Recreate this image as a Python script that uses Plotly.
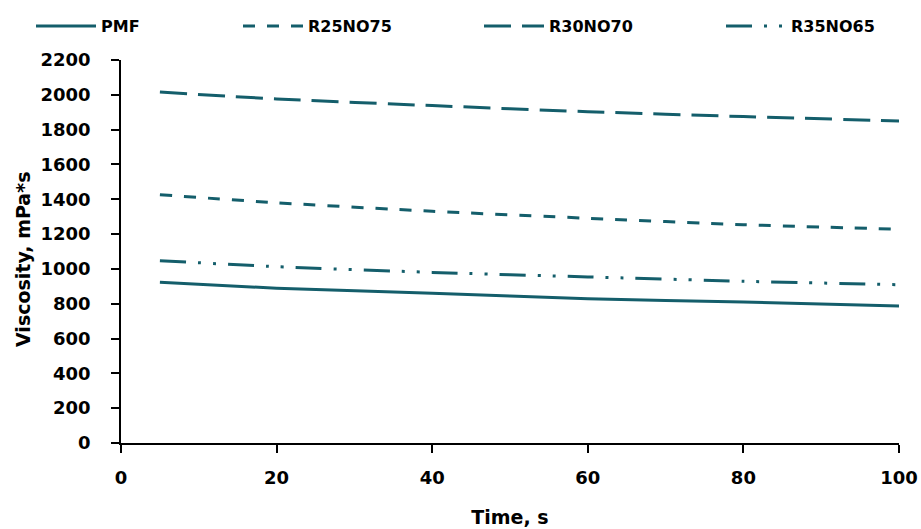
import plotly.graph_objects as go

time_s = [5, 20, 40, 60, 80, 100]
pmf = [923, 889, 860, 829, 810, 787]
r25no75 = [1426, 1380, 1331, 1291, 1254, 1228]
r30no70 = [2016, 1976, 1938, 1903, 1875, 1850]
r35no65 = [1047, 1013, 980, 954, 929, 909]

series_names = ["PMF", "R25NO75", "R30NO70", "R35NO65"]
series_vals = [pmf, r25no75, r30no70, r35no65]
dashes = ["solid", "12px,12px", "27px,11px", "26px,12px,3px,12px,3px,12px"]
legend_ids = ["legend", "legend2", "legend3", "legend4"]
legend_left_px = [31, 238, 479, 721]

color = "#145E6B"
FONT = "DejaVu Sans"
W, H = 921, 529
L, R, T, B = 121, 22, 60, 86

fig = go.Figure()
for name, vals, d, lg in zip(series_names, series_vals, dashes, legend_ids):
    fig.add_trace(go.Scatter(
        x=time_s, y=vals, name=name, mode="lines", legend=lg,
        line=dict(color=color, width=3, dash=d, shape="spline", smoothing=0.6),
    ))

legend_common = dict(
    orientation="h", xref="container", yref="container",
    xanchor="left", y=1 - 26 / H, yanchor="middle",
    itemwidth=60, bgcolor="rgba(0,0,0,0)",
    font=dict(family=FONT, size=16, color="black", weight="bold"),
)
layout_legends = {}
for lg, px in zip(legend_ids, legend_left_px):
    layout_legends[lg] = dict(legend_common, x=px / W)

pw, ph = W - L - R, H - T - B

fig.update_layout(
    width=W, height=H,
    margin=dict(l=L, r=R, t=T, b=B, autoexpand=False),
    plot_bgcolor="white", paper_bgcolor="white",
    font=dict(family=FONT, size=18, color="black", weight="bold"),
    showlegend=True,
    **layout_legends,
    xaxis=dict(
        range=[0, 100], tick0=0, dtick=20, automargin=False,
        showline=True, linecolor="black", linewidth=1.5,
        ticks="outside", ticklen=8, tickcolor="black", tickwidth=1.5,
        ticklabelstandoff=10,
        showgrid=False, zeroline=False,
        title=dict(text="Time, s", standoff=23,
                   font=dict(family=FONT, size=19, color="black", weight="bold")),
        tickfont=dict(family=FONT, size=18, color="black", weight="bold"),
    ),
    yaxis=dict(
        range=[0, 2200], tick0=0, dtick=200, automargin=False,
        showline=True, linecolor="black", linewidth=1.5,
        ticks="outside", ticklen=8, tickcolor="black", tickwidth=1.5,
        ticklabelstandoff=17,
        showgrid=False, zeroline=False,
        tickfont=dict(family=FONT, size=18, color="black", weight="bold"),
    ),
    annotations=[dict(
        text="Viscosity, mPa*s", textangle=-90,
        xref="paper", yref="paper",
        x=(23 - L) / pw, y=(H - B - 260) / ph,
        xanchor="center", yanchor="middle", showarrow=False,
        font=dict(family=FONT, size=19, color="black", weight="bold"),
    )],
)

fig.write_html(
    "out.html",
    config={"displayModeBar": False},
    post_script="document.body.style.margin='0';document.body.style.padding='0';",
)
